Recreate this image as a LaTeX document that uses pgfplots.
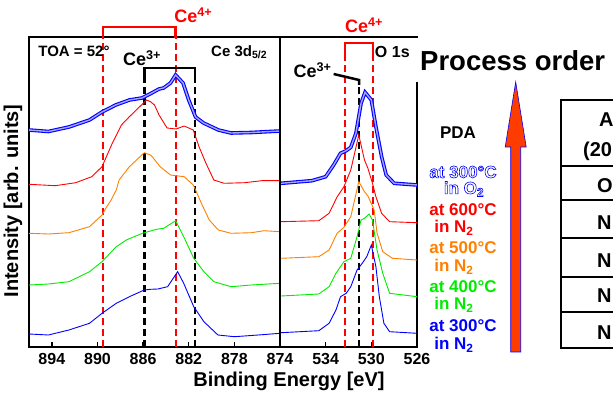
\documentclass[border=0pt]{standalone}
\usepackage{pgfplots}
\pgfplotsset{compat=1.18}
\usepackage{fontspec}
\setmainfont{Liberation Sans}
\newcommand\fs[1]{\fontsize{#1}{#1}\selectfont\bfseries}
\definecolor{cblue}{RGB}{0,0,255}
\definecolor{corange}{RGB}{255,128,0}
\definecolor{cgreen}{RGB}{0,235,0}
\definecolor{cred}{RGB}{255,0,0}
\definecolor{arrowfill}{RGB}{255,60,0}
\newcommand\hollow[1]{\special{pdf:literal direct 1 Tr 0.6 w}#1\special{pdf:literal direct 0 Tr}}
\pgfplotsset{xps/.style={scale only axis, height=310pt, ymin=0, ymax=310, ytick=\empty,
  x dir=reverse, axis line style={line width=1.5pt}, tick align=inside, xtick pos=bottom,
  major tick length=5pt, tick style={black,line width=1.5pt},
  ticklabel style={font=\fs{16}}, xticklabel style={yshift=-3pt},
  /pgf/number format/assume math mode=true,
  /pgf/number format/1000 sep={}, clip=false, anchor=south west},
  thin curve/.style={line width=0.9pt},
  thick curve/.style={draw=cblue, line width=1.1pt, double=cblue!35!white, double distance=1.4pt}}
\begin{document}
\begin{tikzpicture}
\useasboundingbox (0pt,0pt) rectangle (613pt,396pt);
% ---------- Ce 3d panel
\begin{axis}[xps, at={(29pt,49pt)}, width=251pt, xmin=874, xmax=896, xtick={874,878,882,886,890,894}]
\draw[cred, line width=2.2pt, dash pattern=on 7pt off 4pt] (axis cs:889.5,0) -- (axis cs:889.5,309);
\draw[cred, line width=2.2pt, dash pattern=on 7pt off 4pt] (axis cs:883.15,0) -- (axis cs:883.15,309);
\draw[black, line width=2.2pt, dash pattern=on 7pt off 4pt] (axis cs:885.88,0) -- (axis cs:885.88,267);
\draw[black, line width=2.2pt, dash pattern=on 7pt off 4pt] (axis cs:881.47,0) -- (axis cs:881.47,267);
\addplot[cblue, thin curve] coordinates {(896.0,13)(894.3,12)(892.5,17)(890.7,23.7)(889.6,33.7)(888.35,43.7)(887.2,50.3)(885.9,57)(885.35,57.7)(884.7,58)(883.85,60.3)(882.97,75.3)(882.44,63.7)(881.56,40.3)(880.67,25.3)(879.44,12)(878.0,10.3)(875.9,12)(874.0,13.7)};
\addplot[cgreen, thin curve] coordinates {(896.0,62)(894.3,63)(892.5,65.3)(890.7,75.3)(889.6,85.3)(888.35,100.3)(887.47,107)(886.06,113.7)(884.82,117.7)(884.2,118.7)(883.14,126.3)(882.44,110.3)(881.56,88.7)(880.67,75.3)(879.79,65.3)(878.29,60.3)(876.52,62)(874.0,63.7)};
\addplot[corange, thin curve] coordinates {(896.0,113.7)(894.3,113)(892.5,114.3)(890.7,120.3)(889.6,132)(889.2,140)(888.8,147)(888.35,157)(888.1,167)(887.2,180.3)(885.9,194.3)(885.35,192)(885.2,190.3)(884.5,180.3)(883.6,172)(882.4,170.3)(881.6,162)(881.4,157)(880.9,144)(880.2,127)(879.4,117)(878.3,113.7)(876.5,114.3)(875.4,116.3)(874.0,115.3)};
\addplot[cred, thin curve] coordinates {(896.0,162.7)(893.7,161.3)(891.9,164.3)(890.5,170.3)(889.6,180.3)(888.7,203.7)(887.9,222)(887.2,230.3)(886.3,240.3)(885.7,247)(885.35,245.3)(885.0,242)(884.6,232)(883.9,219)(883.1,218)(882.4,221)(881.6,217)(881.1,200.3)(880.5,184)(879.8,167)(878.9,163.7)(877.1,164.3)(875.6,166.3)(874.0,166.3)};
\addplot[thick curve] coordinates {(896.0,217)(894.3,215.5)(892.5,220)(890.7,227)(889.6,235)(888.4,242)(887.2,247)(886.1,249)(885.4,253)(884.6,258)(884.2,259)(883.6,264)(883.15,272)(882.5,264)(882.0,247)(881.4,230)(880.7,224)(879.4,217)(878.3,214)(876.5,214.5)(874.0,216)};
\draw[cred, line width=2.5pt] (axis cs:889.5,309) -- (axis cs:889.5,320) -- (axis cs:883.15,320) -- (axis cs:883.15,309);
\draw[black, line width=2.5pt] (axis cs:885.88,267) -- (axis cs:885.88,279) -- (axis cs:881.47,279) -- (axis cs:881.47,267);
\node[text=cred, font=\fs{18}] at (axis cs:881.6,332) {Ce\textsuperscript{4+}};
\node[font=\fs{18}] at (axis cs:886.1,289) {Ce\textsuperscript{3+}};
\node[font=\fs{15}] at (axis cs:892.06,296) {TOA = 52°};
\node[font=\fs{15}] at (axis cs:877.58,295) {Ce 3d\textsubscript{5/2}};
\end{axis}
% ---------- O 1s panel
\begin{axis}[xps, at={(280pt,49pt)}, width=137pt, xmin=526, xmax=538, xtick={526,530,534}]
\draw[cred, line width=2.2pt, dash pattern=on 7pt off 4pt] (axis cs:532.3,0) -- (axis cs:532.3,290);
\draw[cred, line width=2.2pt, dash pattern=on 7pt off 4pt] (axis cs:529.84,0) -- (axis cs:529.84,290);
\draw[black, line width=2.2pt, dash pattern=on 7pt off 4pt] (axis cs:531.08,0) -- (axis cs:531.08,262);
\addplot[cblue, thin curve] coordinates {(537.9,14.3)(534.6,16.3)(533.7,23.7)(533.1,37)(532.7,50.3)(532.2,53.7)(531.8,60.3)(531.25,77)(530.8,83.7)(530.4,90.3)(530.0,102)(529.6,80.3)(529.3,50.3)(528.9,23.7)(528.4,15.3)(526.0,13.7)};
\addplot[cgreen, thin curve] coordinates {(537.9,51)(534.6,53)(533.7,60.3)(533.1,73.7)(532.4,85.3)(531.8,88.7)(531.25,110.3)(530.9,127)(530.6,128.7)(530.2,133)(529.9,127)(529.5,97)(529.0,73.7)(528.4,53.7)(526.0,50.3)};
\addplot[corange, thin curve] coordinates {(537.9,88.7)(534.6,90.3)(533.7,97)(533.0,113.7)(532.4,119.7)(531.8,130.3)(531.4,150.3)(531.1,165.3)(530.6,155.3)(530.3,151)(529.75,137)(529.5,114)(529.0,95.3)(528.15,88.7)(526.0,87)};
\addplot[cred, thin curve] coordinates {(537.9,125.3)(534.6,126.3)(533.7,133.7)(533.0,150)(532.4,160.3)(531.8,177)(531.4,197)(531.1,212)(530.6,187)(530.3,178.7)(529.9,163.7)(529.6,150.3)(529.1,133.7)(528.4,125.3)(526.0,124.3)};
\addplot[thick curve] coordinates {(537.9,163.7)(535.2,166.3)(534.0,170.3)(533.3,182)(532.7,193.7)(532.2,196.3)(531.8,199.7)(531.35,213.7)(530.9,243.7)(530.55,254.7)(530.0,247)(529.6,220.3)(529.1,190.3)(528.7,172)(528.0,163.7)(526.0,162)};
\draw[cred, line width=2.5pt] (axis cs:532.3,290) -- (axis cs:532.3,304) -- (axis cs:529.84,304) -- (axis cs:529.84,290);
\draw[black, line width=2.5pt] (axis cs:533.3,273) -- (axis cs:531.08,267) -- (axis cs:531.08,262);
\node[text=cred, font=\fs{18}] at (axis cs:530.64,322) {Ce\textsuperscript{4+}};
\node[font=\fs{18}] at (axis cs:535.15,277) {Ce\textsuperscript{3+}};
\node[font=\fs{16}] at (axis cs:528.16,295) {O 1s};
\end{axis}
\begin{scope}[x=1pt,y=1pt]
\fill[white] (415.6,314) rectangle (419,357.6);
% axis labels
\node[rotate=90, font=\fs{20}] at (13,195) {Intensity [arb. units]};
\node[font=\fs{20}] at (289,15) {Binding Energy [eV]};
% process order
\node[anchor=base west, font=\fs{27.5}, inner sep=0pt] at (420,325) {Process order};
\filldraw[fill=arrowfill, draw=cblue, line width=0.6pt] (510.7,44) -- (510.7,249) -- (505.2,249) -- (515.7,314) -- (526.2,249) -- (520.7,249) -- (520.7,44) -- cycle;
\node[font=\fs{17}] at (458,263) {PDA};
\node[font=\fs{17}, text=cblue] at (463,224) {\hollow{at 300°C}};
\node[font=\fs{17}, text=cblue] at (464,207) {\hollow{in O\textsubscript{2}}};
\node[font=\fs{17}, text=cred] at (463,186) {at 600°C};
\node[font=\fs{17}, text=cred] at (454,168) {in N\textsubscript{2}};
\node[font=\fs{17}, text=corange] at (463,148) {at 500°C};
\node[font=\fs{17}, text=corange] at (454,129) {in N\textsubscript{2}};
\node[font=\fs{17}, text=cgreen] at (463,109) {at 400°C};
\node[font=\fs{17}, text=cgreen] at (454,91) {in N\textsubscript{2}};
\node[font=\fs{17}, text=cblue] at (463,70) {at 300°C};
\node[font=\fs{17}, text=cblue] at (454,51) {in N\textsubscript{2}};
% table (cut by the picture's right edge, as in the reference)
\draw[line width=1.5pt] (561,296.75) -- (561,47.25);
\foreach \yy in {296,230,196,158,119,84,48} {\draw[line width=1.5pt] (560.25,\yy) -- (613,\yy);}
\node[anchor=base west, font=\fs{20}, inner sep=0pt] at (599,269) {A};
\node[anchor=base west, font=\fs{20}, inner sep=0pt] at (583,239) {(20};
\node[anchor=base west, font=\fs{20}, inner sep=0pt] at (597,203) {O};
\node[anchor=base west, font=\fs{20}, inner sep=0pt] at (597,166) {N};
\node[anchor=base west, font=\fs{20}, inner sep=0pt] at (597,128) {N};
\node[anchor=base west, font=\fs{20}, inner sep=0pt] at (597,93) {N};
\node[anchor=base west, font=\fs{20}, inner sep=0pt] at (597,56) {N};
\end{scope}
\end{tikzpicture}
\end{document}
